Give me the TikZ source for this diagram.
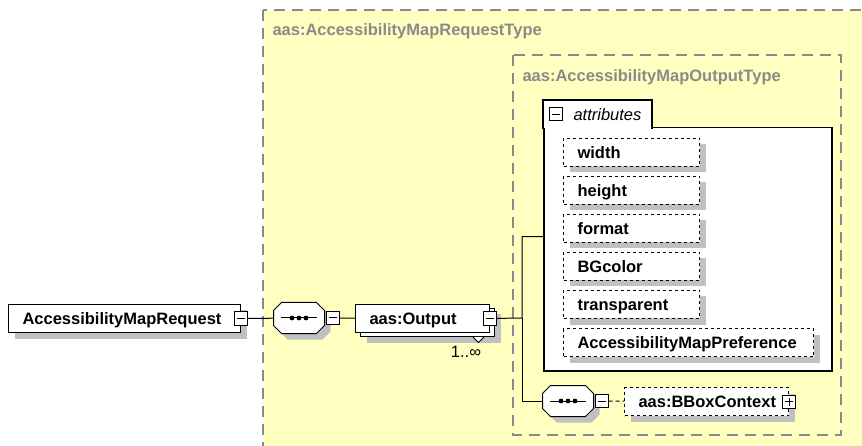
\documentclass[tikz,border=0pt]{standalone}
\usepackage{fontspec}
\setmainfont{Liberation Sans}
\usetikzlibrary{positioning, shadows}
\definecolor{xsdyellow}{HTML}{FFFFC0}
\definecolor{xsdgray}{HTML}{8A8A8A}
\definecolor{shadowgray}{HTML}{C0C0C0}

\newcommand{\seqdraw}[1]{%
  \draw[fill=white, preaction={fill=shadowgray, transform canvas={shift={(6pt,-6pt)}}}]
    ([xshift=8pt]#1.north west) -- ([xshift=-8pt]#1.north east) -- ([yshift=-8pt]#1.north east)
    -- ([yshift=8pt]#1.south east) -- ([xshift=-8pt]#1.south east) -- ([xshift=8pt]#1.south west)
    -- ([yshift=8pt]#1.south west) -- ([yshift=-8pt]#1.north west) -- cycle;
  \draw ([xshift=-18pt]#1.center) -- ([xshift=18pt]#1.center);
  \foreach \d in {-7,0,7} \fill[black] ([xshift=\d pt]#1.center) circle (2.4);
}

\begin{document}
\begin{tikzpicture}[x=1pt, y=-1pt, line width=1pt,
    every node/.style = {font=\fontsize{16.5}{19}\selectfont\bfseries, inner sep=0pt},
    shadowed/.style = {drop shadow={shadow xshift=6pt, shadow yshift=-6pt, fill=shadowgray, opacity=1}},
    box/.style = {draw, fill=white, anchor=north west, minimum height=28, inner xsep=14, text width=#1, align=left, text height=12, text depth=0},
    elem/.style = {box=#1, shadowed},
    attr/.style = {box=#1, shadowed, dash pattern=on 3pt off 3pt},
    attr/.default = 108,
    multi/.style = {box=#1, drop shadow={shadow xshift=11pt, shadow yshift=-10pt, fill=shadowgray, opacity=1}, copy shadow={shadow xshift=5pt, shadow yshift=-4pt, draw=black, fill=white}},
    seq/.style = {minimum width=50, minimum height=30},
    minus/.style = {draw, fill=white, minimum size=13,
        path picture={\draw ([xshift=-4pt]path picture bounding box.center) -- ([xshift=4pt]path picture bounding box.center);}},
    plus/.style = {draw, fill=white, minimum size=13,
        path picture={\draw ([xshift=-4pt]path picture bounding box.center) -- ([xshift=4pt]path picture bounding box.center);
            \draw ([yshift=-4pt]path picture bounding box.center) -- ([yshift=4pt]path picture bounding box.center);}},
    region/.style = {draw=xsdgray, line width=1.5pt, dash pattern=on 11pt off 7pt}]
    \useasboundingbox (0,0) rectangle (862,446);

    \draw[region, fill=xsdyellow] (263,10) rectangle (885,470);
    \node[anchor=base west, text=xsdgray] (reqtype) at (272,36) {aas:AccessibilityMapRequestType};
    \draw[region] (513,55) rectangle (841,435);
    \node[anchor=base west, text=xsdgray] (outtype) at (522,81.5) {aas:AccessibilityMapOutputType};

    \node[elem=204] (req) at (8,304) {AccessibilityMapRequest};
    \node[minus] (reqm) at (req.east) {};

    \node[seq] (seq1) at (299,318) {};
    \seqdraw{seq1}
    \node[minus, right=1pt of seq1] (seq1m) {};

    \node[multi=106] (out) at (355,304) {aas:Output};
    \node[minus] (outm) at (out.east) {};
    \draw[fill=white] ([xshift=-17pt, yshift=-4pt]out.south east) -- ++(5.5,5.5) -- ++(5.5,-5.5);
    \node[font=\fontsize{16.5}{19}\selectfont] (outmult) at (466,352) {1..∞};

    \node[draw, fill=white, line width=1.5pt, anchor=north west, minimum width=288, minimum height=243] (attrs) at (543,127) {};
    \node[fill=white, anchor=north west, minimum width=108, minimum height=28] (attrtab) at (543,100) {};
    \draw[line width=1.5pt] (attrtab.south west) |- (attrtab.north east) -- (attrtab.south east);
    \node[minus] (attrm) at ([xshift=13pt]attrtab.west) {};
    \node[anchor=west, font=\fontsize{16.5}{19}\selectfont\itshape] (attrlbl) at ([xshift=30pt]attrtab.west) {attributes};

    \foreach \nm [count=\i from 0] in {width, height, format, BGcolor, transparent}
        \node[attr] (att\i) at (563,{138+38*\i}) {\nm};
    \node[attr=222] (att5) at (563,328) {AccessibilityMapPreference};

    \node[seq] (seq2) at (568,401) {};
    \seqdraw{seq2}
    \node[minus, right=1pt of seq2] (seq2m) {};
    \node[attr=136] (bbox) at (624,387) {aas:BBoxContext};
    \node[plus] (bboxp) at (bbox.east) {};

    \coordinate (fork) at (522,318);

    \draw (reqm) -- (seq1);
    \draw (seq1m) -- (out);
    \draw (outm) -- (fork) |- ([yshift=12.5pt]attrs.west);
    \draw (fork) |- (seq2);
    \draw[dash pattern=on 4pt off 3pt] (seq2m) -- (bbox);

\end{tikzpicture}
\end{document}
